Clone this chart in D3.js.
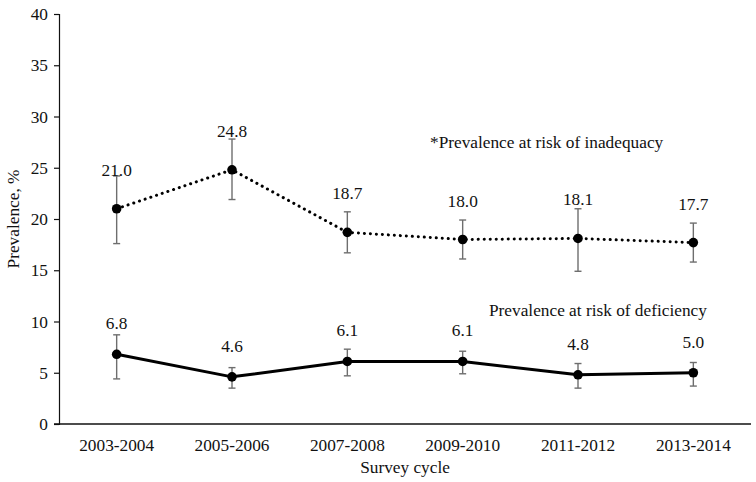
<!DOCTYPE html>
<html>
<head>
<meta charset="utf-8">
<script src="https://cdn.jsdelivr.net/npm/d3@7"></script>
<style>
  body { margin: 0; background: #fff; }
  text { font-family: "Liberation Serif", "Times New Roman", serif; fill: #111; }
</style>
</head>
<body>
<div id="chart"></div>
<script>
// ---- data ----
var cycles = ["2003-2004", "2005-2006", "2007-2008", "2009-2010", "2011-2012", "2013-2014"];

var inadequacy = [21.0, 24.8, 18.7, 18.0, 18.1, 17.7];
var inadequacyLow = [17.6, 21.9, 16.7, 16.1, 14.9, 15.8];
var inadequacyHigh = [24.2, 27.8, 20.7, 19.9, 21.0, 19.6];

var deficiency = [6.8, 4.6, 6.1, 6.1, 4.8, 5.0];
var deficiencyLow = [4.4, 3.5, 4.7, 4.9, 3.5, 3.7];
var deficiencyHigh = [8.7, 5.5, 7.3, 7.1, 5.9, 6.0];

var yTicks = [0, 5, 10, 15, 20, 25, 30, 35, 40];

// ---- chart area ----
var svgWidth = 756;
var svgHeight = 482;
var margin = { top: 14, right: 5, bottom: 58, left: 59 };
var chartWidth = svgWidth - margin.left - margin.right;
var chartHeight = svgHeight - margin.top - margin.bottom;
var fontSize = "17.3px";

var svg = d3.select("#chart")
  .append("svg")
  .attr("width", svgWidth)
  .attr("height", svgHeight);

var chartGroup = svg.append("g")
  .attr("transform", `translate(${margin.left}, ${margin.top})`);

// scales
var xScale = d3.scaleBand()
  .domain(cycles)
  .range([0, chartWidth])
  .padding(0);

var yScale = d3.scaleLinear()
  .domain([0, 40])
  .range([chartHeight, 0]);

var xc = d => xScale(d) + xScale.bandwidth() / 2;

// y axis
var yAxis = chartGroup.append("g")
  .call(d3.axisLeft(yScale).tickValues(yTicks).tickSize(5).tickPadding(6));
yAxis.select(".domain").attr("stroke", "#111").attr("stroke-width", 1.2);
yAxis.selectAll(".tick line").attr("stroke", "#111").attr("stroke-width", 1.2);
yAxis.selectAll("text")
  .style("font-size", fontSize)
  .attr("fill", "#111");

// x axis (no ticks)
var xAxis = chartGroup.append("g")
  .attr("transform", `translate(0, ${chartHeight})`)
  .call(d3.axisBottom(xScale).tickSize(0).tickPadding(15).tickSizeOuter(0));
xAxis.select(".domain").attr("stroke", "#111").attr("stroke-width", 1.5)
  .attr("d", `M-5,0H${chartWidth}`);
xAxis.selectAll("text")
  .style("font-size", fontSize)
  .attr("fill", "#111");

// axis titles
chartGroup.append("text")
  .attr("transform", "rotate(-90)")
  .attr("x", -yScale(20))
  .attr("y", -40)
  .attr("text-anchor", "middle")
  .style("font-size", fontSize)
  .text("Prevalence, %");

chartGroup.append("text")
  .attr("x", chartWidth / 2)
  .attr("y", chartHeight + 49)
  .attr("text-anchor", "middle")
  .style("font-size", fontSize)
  .text("Survey cycle");

// ---- series ----
function drawSeries(values, low, high, dash, labelOffset) {
  var rows = cycles.map((c, i) => ({ c: c, v: values[i], lo: low[i], hi: high[i] }));

  // error bars
  var eb = chartGroup.append("g").selectAll("g")
    .data(rows).enter().append("g")
    .attr("stroke", "#6e6e6e")
    .attr("stroke-width", 1.4);
  eb.append("line")
    .attr("x1", d => xc(d.c)).attr("x2", d => xc(d.c))
    .attr("y1", d => yScale(d.lo)).attr("y2", d => yScale(d.hi));
  eb.append("line")
    .attr("x1", d => xc(d.c) - 3.5).attr("x2", d => xc(d.c) + 3.5)
    .attr("y1", d => yScale(d.lo)).attr("y2", d => yScale(d.lo));
  eb.append("line")
    .attr("x1", d => xc(d.c) - 3.5).attr("x2", d => xc(d.c) + 3.5)
    .attr("y1", d => yScale(d.hi)).attr("y2", d => yScale(d.hi));

  // line
  var line = d3.line().x(d => xc(d.c)).y(d => yScale(d.v));
  chartGroup.append("path")
    .datum(rows)
    .attr("fill", "none")
    .attr("stroke", "#000")
    .attr("stroke-width", 3)
    .attr("stroke-linecap", dash ? "round" : "butt")
    .attr("stroke-linejoin", "round")
    .attr("stroke-dasharray", dash)
    .attr("d", line);

  // markers
  chartGroup.append("g").selectAll("circle")
    .data(rows).enter().append("circle")
    .attr("cx", d => xc(d.c))
    .attr("cy", d => yScale(d.v))
    .attr("r", 4.8)
    .attr("fill", "#000");

  // value labels
  chartGroup.append("g").selectAll("text")
    .data(rows).enter().append("text")
    .attr("x", d => xc(d.c))
    .attr("y", d => yScale(d.v) - labelOffset)
    .attr("text-anchor", "middle")
    .style("font-size", fontSize)
    .text(d => d.v.toFixed(1));
}

drawSeries(inadequacy, inadequacyLow, inadequacyHigh, "0.1,5.9", 33);
drawSeries(deficiency, deficiencyLow, deficiencyHigh, null, 25);

// series annotations
chartGroup.append("text")
  .attr("x", 430 - margin.left)
  .attr("y", 148 - margin.top)
  .style("font-size", fontSize)
  .text("*Prevalence at risk of inadequacy");

chartGroup.append("text")
  .attr("x", 489 - margin.left)
  .attr("y", 316 - margin.top)
  .style("font-size", fontSize)
  .text("Prevalence at risk of deficiency");
</script>
</body>
</html>
